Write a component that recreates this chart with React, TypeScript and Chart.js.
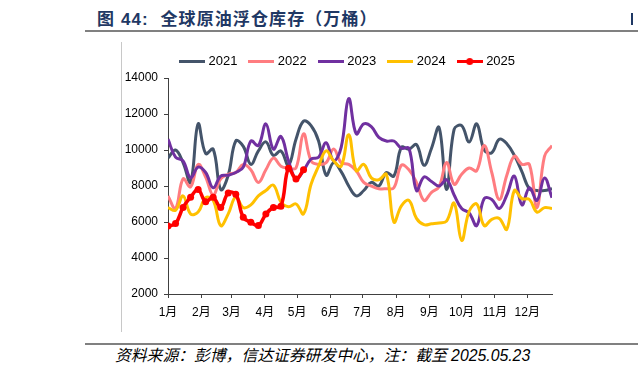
import React, { useEffect, useRef } from 'react';
import { Chart, registerables } from 'chart.js';

Chart.register(...registerables);

const seriesNames = ['2021', '2022', '2023', '2024', '2025'];
const seriesColors = ['#44546a', '#ff7c80', '#7030a0', '#ffc000', '#ff0000'];
const monthLabels = ['1月', '2月', '3月', '4月', '5月', '6月', '7月', '8月', '9月', '10月', '11月', '12月'];
const monthStartDays = [0, 31, 59, 90, 120, 151, 181, 212, 243, 273, 304, 334];
const daysPerWeek = 7;
const yTicks = [2000, 4000, 6000, 8000, 10000, 12000, 14000];

const s2021 = [9550, 10000, 9300, 8200, 11450, 9800, 10050, 7800, 8600, 10500, 10200, 9200, 9950, 10450, 9700, 9950, 9150, 10600, 11600, 11350, 10500, 8600, 9300, 8800, 8000, 7450, 7750, 8200, 8000, 8750, 8550, 10150, 10050, 10300, 9150, 10100, 11250, 7800, 11150, 11350, 10450, 11450, 10000, 9850, 10600, 10350, 9700, 8800, 7850, 7750, 7750, 7850];
const s2022 = [7450, 6750, 8400, 7950, 9200, 8500, 7500, 8400, 8650, 8750, 9200, 8900, 8200, 8900, 9550, 9100, 9000, 9000, 10900, 9400, 9200, 9300, 10050, 9300, 9200, 8850, 8200, 8000, 7850, 7850, 7900, 9150, 8900, 8200, 7200, 7650, 7950, 9300, 8100, 8650, 9000, 8850, 10250, 8750, 7250, 8600, 9650, 9200, 9200, 6800, 9650, 10250];
const s2023 = [10600, 9600, 9400, 8450, 9050, 8750, 7900, 8550, 8600, 8750, 9050, 10500, 10250, 11450, 10050, 10750, 9400, 8400, 8850, 9500, 9600, 10400, 9400, 10150, 12850, 10900, 11450, 11300, 10700, 10500, 10500, 10100, 10100, 7750, 8500, 8250, 8000, 8350, 7500, 6750, 6500, 5800, 7300, 7250, 6750, 7500, 8550, 6950, 7900, 7200, 8450, 7350];
const s2024 = [6800, 6650, 7450, 6450, 6550, 7350, 7200, 5800, 6450, 7400, 6800, 6950, 7450, 7750, 8050, 7100, 6850, 7000, 6450, 8100, 9100, 9950, 9400, 9100, 10850, 8850, 9200, 8450, 8350, 8650, 6000, 6900, 7200, 6200, 5850, 5900, 5950, 6050, 7050, 4980, 6600, 7000, 5800, 6150, 6200, 5600, 7750, 7300, 7250, 6550, 6800, 6750];
const s2025 = [5780, 5910, 6810, 7370, 7800, 7130, 7370, 6810, 7610, 7540, 6260, 5980, 5800, 6440, 6810, 6870, 8980, 8390, 8900];

const allSeries = [s2021, s2022, s2023, s2024, s2025];

function makeLegendImage(color: string, withDot: boolean) {
  const c = document.createElement('canvas');
  c.width = 26;
  c.height = 9;
  const g = c.getContext('2d')!;
  g.strokeStyle = color;
  g.lineWidth = 3;
  g.beginPath();
  g.moveTo(0, 4.5);
  g.lineTo(26, 4.5);
  g.stroke();
  if (withDot) {
    g.fillStyle = color;
    g.beginPath();
    g.arc(13, 4.5, 3.5, 0, Math.PI * 2);
    g.fill();
  }
  return c;
}

export default function App() {
  const ref = useRef<HTMLCanvasElement | null>(null);

  useEffect(() => {
    if (!ref.current) return;
    const fontFamily = "Arial, 'Liberation Sans', 'Noto Sans CJK SC', sans-serif";
    Chart.defaults.font.family = fontFamily;
    const legendImages = seriesNames.map((_, i) => makeLegendImage(seriesColors[i], i === 4));
    const maxDay = (s2021.length - 1) * daysPerWeek;

    const datasets = allSeries.map((vals, si) => ({
      label: seriesNames[si],
      data: vals.map((v, i) => ({ x: i * daysPerWeek, y: v })),
      borderColor: seriesColors[si],
      backgroundColor: seriesColors[si],
      borderWidth: si === 4 ? 3.5 : 3,
      pointRadius: si === 4 ? 3.5 : 0,
      pointBorderWidth: 0,
      pointBackgroundColor: seriesColors[si],
      tension: 0.4,
      fill: false,
      order: 5 - si,
      yAxisID: 'y',
    }));

    const legendFix = {
      id: 'legendFix',
      beforeInit(chart: any) {
        const legend = chart.legend;
        if (legend) {
          const orig = legend.fit;
          legend.fit = function () {
            orig.call(this);
            this.height = 37;
          };
        }
      },
    };

    const chart = new Chart(ref.current, {
      type: 'line',
      data: { datasets },
      plugins: [legendFix],
      options: {
        animation: false,
        responsive: false,
        maintainAspectRatio: false,
        layout: { padding: 0 },
        plugins: {
          tooltip: { enabled: false },
          legend: {
            position: 'top',
            align: 'center',
            labels: {
              usePointStyle: true,
              pointStyleWidth: 20,
              padding: 14,
              color: '#000',
              font: { size: 13, family: fontFamily },
              sort: (a: any, b: any) => a.datasetIndex - b.datasetIndex,
              generateLabels: (chart: any) => {
                const items = (Chart as any).defaults.plugins.legend.labels.generateLabels(chart);
                return items.map((it: any) => ({ ...it, pointStyle: legendImages[it.datasetIndex] }));
              },
            },
          },
        },
        scales: {
          x: {
            type: 'linear',
            min: 0,
            max: maxDay,
            afterFit: (s: any) => {
              s.height = 47;
            },
            afterBuildTicks: (s: any) => {
              s.ticks = monthStartDays.map((d) => ({ value: d }));
            },
            grid: { drawOnChartArea: false, drawTicks: true, tickLength: 4, color: '#404040', lineWidth: 1 },
            border: { color: '#404040', width: 1 },
            ticks: {
              autoSkip: false,
              maxRotation: 0,
              minRotation: 0,
              padding: 7,
              color: '#000',
              font: { size: 12, family: fontFamily },
              callback: (v: any) => {
                const idx = monthStartDays.indexOf(Number(v));
                return idx >= 0 ? monthLabels[idx] : '';
              },
            },
          },
          y: {
            type: 'linear',
            position: 'left',
            min: yTicks[0],
            max: yTicks[yTicks.length - 1],
            afterFit: (s: any) => {
              s.width = 46;
            },
            afterBuildTicks: (s: any) => {
              s.ticks = yTicks.map((v) => ({ value: v }));
            },
            grid: { drawOnChartArea: false, drawTicks: true, tickLength: 4, color: '#404040', lineWidth: 1 },
            border: { color: '#404040', width: 1 },
            ticks: {
              padding: 6,
              color: '#000',
              font: { size: 12, family: fontFamily },
              callback: (v: any) => String(v),
            },
          },
          spacer: {
            type: 'linear',
            position: 'right',
            display: true,
            min: 0,
            max: 1,
            grid: { display: false, drawTicks: false },
            border: { display: false },
            ticks: { display: false },
            afterFit: (s: any) => {
              s.width = 23;
            },
          },
        },
      } as any,
    });
    return () => chart.destroy();
  }, []);

  return (
    <div style={{ position: 'absolute', left: 0, top: 0, width: 638, height: 374, background: '#fff', overflow: 'hidden' }}>
      <div
        style={{
          position: 'absolute',
          left: 97,
          top: 8,
          fontFamily: "Arial, 'Noto Sans CJK SC', sans-serif",
          fontWeight: 'bold',
          fontSize: 17,
          lineHeight: '24px',
          letterSpacing: '1.1px',
          color: '#1f3864',
          whiteSpace: 'nowrap',
        }}
      >
        图 44:&nbsp;&nbsp;全球原油浮仓库存（万桶）
      </div>
      <div style={{ position: 'absolute', left: 631, top: 13, width: 2, height: 12, background: '#1f3864' }} />
      <div style={{ position: 'absolute', left: 85, top: 30, width: 553, height: 2, background: '#808080' }} />
      <div style={{ position: 'absolute', left: 121, top: 42, width: 1, height: 290, background: '#c8c8c8' }} />
      <canvas
        ref={ref}
        width={453}
        height={300}
        style={{ position: 'absolute', left: 122, top: 41, width: 453, height: 300 }}
      />
      <div style={{ position: 'absolute', left: 85, top: 343, width: 553, height: 2, background: '#808080' }} />
      <div
        style={{
          position: 'absolute',
          left: 115,
          top: 346,
          fontFamily: "'Liberation Sans', 'Noto Sans CJK SC', sans-serif",
          fontStyle: 'italic',
          fontSize: 15.8,
          lineHeight: '20px',
          color: '#000',
          whiteSpace: 'nowrap',
        }}
      >
        资料来源：彭博，信达证券研发中心，注：截至 2025.05.23
      </div>
    </div>
  );
}
